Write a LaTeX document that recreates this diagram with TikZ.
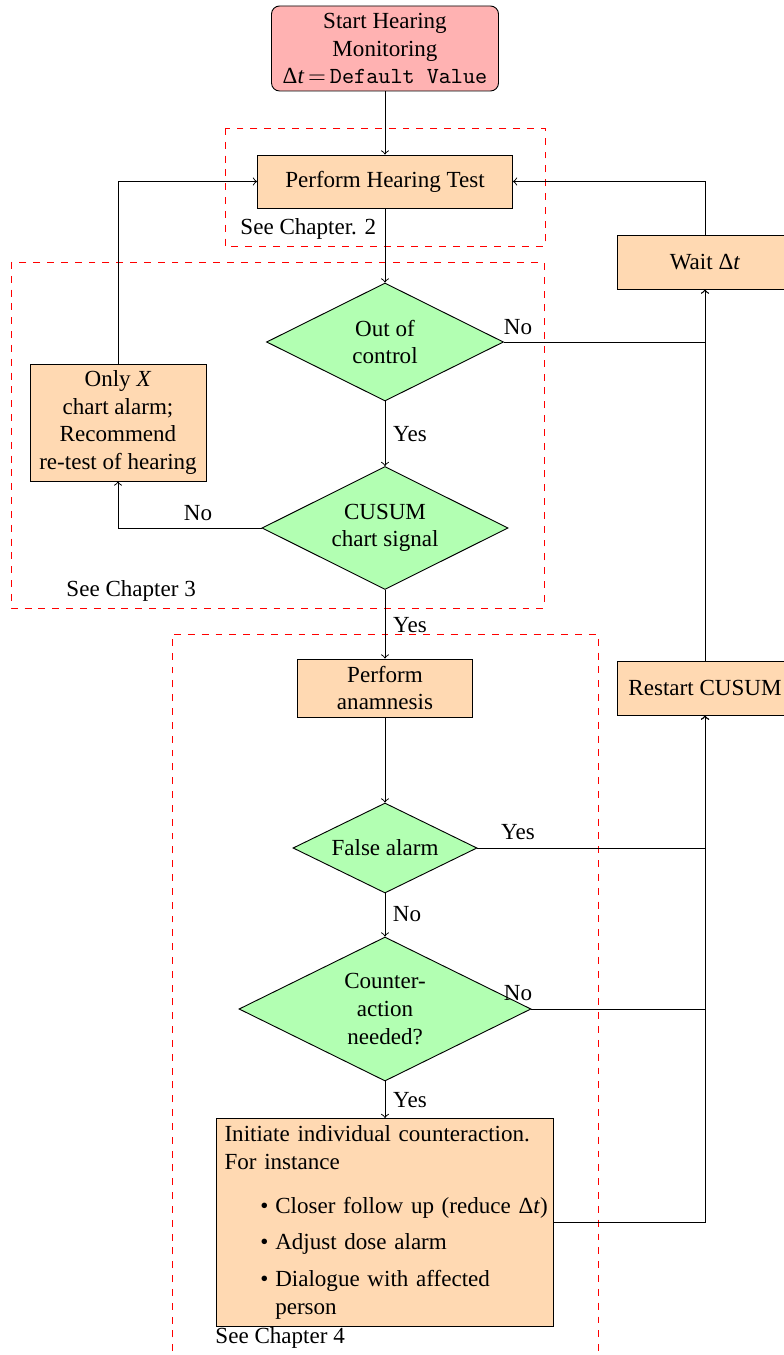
\documentclass[tikz,border=0pt]{standalone}
\usepackage{fontspec}
\setmainfont{Liberation Serif}
\usetikzlibrary{shapes.geometric}
\newcommand\pxu{0.4338pt}
\newcommand\itm{\makebox[22pt][r]{\textbullet\hspace{3pt}}}
\tikzset{
  box/.style={draw, fill=orange!30, align=center, inner sep=1pt},
  dec/.style={draw, diamond, fill=green!30, align=center, inner sep=0pt, aspect=2},
  chap/.style={draw=red, dashed},
  lbl/.style={inner sep=0pt},
  conn/.style={->},
}
\begin{document}
\begin{tikzpicture}[x=\pxu, y=-\pxu]
\clip (0,0) rectangle (784,1355);
\fill[white] (0,0) rectangle (784,1355);

% chapter frames
\draw[chap] (225,128) rectangle (545,246);
\draw[chap] (11,262) rectangle (544,608);
\draw[chap] (172,1365) -- (172,634) -- (598,634) -- (598,1365);

% nodes
\node[draw, fill=red!30, rounded corners=3.5pt, align=center, minimum width=227*\pxu, minimum height=85*\pxu, inner sep=1pt] (start) at (385,48.5)
  {Start Hearing\\Monitoring\\Δ\textit{t}\,$=$\,\texttt{Default Value}};
\node[box, minimum width=255*\pxu, minimum height=53*\pxu] (test) at (385,181.5) {Perform Hearing Test};
\node[dec, minimum width=237*\pxu, minimum height=118*\pxu] (ooc) at (385,342) {Out of\\control};
\node[dec, minimum width=246*\pxu, minimum height=123*\pxu] (cusum) at (385,528) {CUSUM\\chart signal};
\node[box, minimum width=176*\pxu, minimum height=117*\pxu] (onlyx) at (118,422.5) {Only \textit{X}\\chart alarm;\\Recommend\\re-test of hearing};
\node[box, minimum width=176*\pxu, minimum height=54*\pxu] (wait) at (705,262) {Wait Δ\textit{t}};
\node[box, minimum width=176*\pxu, minimum height=54*\pxu] (restart) at (705,688) {Restart CUSUM};
\node[box, minimum width=175*\pxu, minimum height=58*\pxu] (anam) at (385,688) {Perform\\anamnesis};
\node[dec, minimum width=184*\pxu, minimum height=90*\pxu] (falsea) at (385,848) {False alarm};
\node[dec, minimum width=292*\pxu, minimum height=144*\pxu] (counter) at (385,1009) {Counter-\\action\\needed?};
\node[draw, fill=orange!30, anchor=north, align=left, text width=139.2pt, inner xsep=3.3pt, inner ysep=3pt] (action) at (385,1118)
  {Initiate individual counteraction.\\For instance\\[7.5pt]
   \itm\mbox{Closer follow up (reduce Δ\textit{t})}\\[3.6pt]
   \itm Adjust dose alarm\\[4pt]
   \itm Dialogue with affected\\
   \hspace*{22pt}person};

% connectors
\draw[conn] (start) -- (test);
\draw[conn] (test) -- (ooc);
\draw[conn] (ooc) -- (cusum);
\draw[conn] (cusum) -- (anam);
\draw[conn] (anam) -- (falsea);
\draw[conn] (falsea) -- (counter);
\draw[conn] (counter) -- (action);
\draw[conn] (cusum.west) -| (onlyx.south);
\draw[conn] (onlyx.north) |- (test.west);
\draw[conn] (ooc.east) -| (wait.south);
\draw[conn] (wait.north) |- (test.east);
\draw[conn] (restart.north) -- (wait.south);
\draw[conn] (falsea.east) -| (restart.south);
\draw[conn] (counter.east) -| (restart.south);
\draw[conn] (action.east) -| (restart.south);

% labels
\node[lbl] (no1) at (518,327) {No};
\node[lbl] (yes1) at (410,434) {Yes};
\node[lbl] (no2) at (198,513) {No};
\node[lbl] (yes2) at (410,625) {Yes};
\node[lbl] (yes3) at (518,832) {Yes};
\node[lbl] (no3) at (407,914) {No};
\node[lbl] (no4) at (518,993) {No};
\node[lbl] (yes4) at (410,1100) {Yes};
\node[lbl, anchor=west] (ch2) at (240,229) {See Chapter. 2};
\node[lbl, anchor=west] (ch3) at (66,591) {See Chapter 3};
\node[lbl, anchor=west] (ch4) at (215,1338) {See Chapter 4};
\end{tikzpicture}
\end{document}
